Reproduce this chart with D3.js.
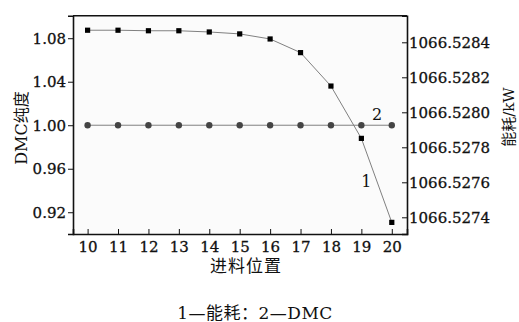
<!DOCTYPE html>
<meta charset="utf-8">
<style>
body { margin: 0; background: #fff; }
text { font-family: "DejaVu Serif", "Noto Sans CJK SC", serif; fill: #111; }
.axis path, .axis line { stroke: #111; }
.axis path { stroke-width: 1.6px; }
.axis text { font-size: 15px; stroke: #111; stroke-width: 0.3px; }
.line { fill: none; stroke: #808080; stroke-width: 1px; }
</style>
<svg width="519" height="322"></svg>
<script src="https://cdn.jsdelivr.net/npm/d3@7"></script>
<script>
// data
var positions = [10, 11, 12, 13, 14, 15, 16, 17, 18, 19, 20];
var energy = [1066.528469, 1066.528469, 1066.528466, 1066.528466, 1066.528459, 1066.528448,
              1066.528419, 1066.528341, 1066.528150, 1066.527851, 1066.527371];
var purity = [1.00, 1.00, 1.00, 1.00, 1.00, 1.00, 1.00, 1.00, 1.00, 1.00, 1.00];
var leftTicks = [0.92, 0.96, 1.00, 1.04, 1.08];
var rightTicks = [1066.5274, 1066.5276, 1066.5278, 1066.5280, 1066.5282, 1066.5284];

var svg = d3.select("svg"),
    margin = {top: 15.7, right: 112, bottom: 88, left: 73},
    width = svg.attr("width") - margin.left - margin.right,
    height = svg.attr("height") - margin.top - margin.bottom,
    g = svg.append("g").attr("transform", "translate(" + margin.left + "," + margin.top + ")");

//scales
var x = d3.scaleLinear().domain([9.52, 20.5]).range([0, width]),
    yL = d3.scaleLinear().domain([0.9, 1.1007]).range([height, 0]),
    yR = d3.scaleLinear().domain([1066.5273046, 1066.528552]).range([height, 0]);

g.append("rect")
    .attr("width", width)
    .attr("height", height)
    .attr("fill", "#fbfbfb");

//axes
g.append("g")
    .attr("class", "axis axis--x")
    .attr("transform", "translate(0," + height + ")")
    .call(d3.axisBottom(x).tickValues(positions).tickSize(-5).tickPadding(7).tickFormat(d3.format("d")));

g.append("g")
    .attr("class", "axis axis--y")
    .call(d3.axisLeft(yL).tickValues(leftTicks).tickSize(5).tickPadding(2).tickFormat(d3.format(".2f")));

g.append("g")
    .attr("class", "axis axis--y2")
    .attr("transform", "translate(" + width + ",0)")
    .call(d3.axisRight(yR).tickValues(rightTicks).tickSize(-5).tickPadding(2).tickFormat(d3.format(".4f")));

// top frame line
g.append("line")
    .attr("x1", 0).attr("x2", width)
    .attr("y1", 0).attr("y2", 0)
    .attr("stroke", "#111").attr("stroke-width", 1.6);

g.selectAll(".domain").attr("stroke-width", 1.6);

//lines
var lineE = d3.line()
    .x(function(d, i) { return x(positions[i]); })
    .y(function(d) { return yR(d); });
var lineP = d3.line()
    .x(function(d, i) { return x(positions[i]); })
    .y(function(d) { return yL(d); });

g.append("path").attr("class", "line").attr("d", lineP(purity));
g.append("path").attr("class", "line").attr("d", lineE(energy));

g.selectAll(".dot")
    .data(purity)
  .enter().append("circle")
    .attr("class", "dot")
    .attr("cx", function(d, i) { return x(positions[i]); })
    .attr("cy", function(d) { return yL(d); })
    .attr("r", 3.2)
    .attr("fill", "#444");

g.selectAll(".sq")
    .data(energy)
  .enter().append("rect")
    .attr("class", "sq")
    .attr("x", function(d, i) { return x(positions[i]) - 2.6; })
    .attr("y", function(d) { return yR(d) - 2.6; })
    .attr("width", 5.2)
    .attr("height", 5.2)
    .attr("fill", "#000");

//curve labels
g.append("text")
    .attr("x", x(19.52))
    .attr("y", yL(1.0) - 5)
    .attr("text-anchor", "middle")
    .style("font-size", "16px")
    .text("2");

g.append("text")
    .attr("x", x(19.16))
    .attr("y", yR(1066.52762) + 8)
    .attr("text-anchor", "middle")
    .style("font-size", "16px")
    .text("1");

//axis titles
svg.append("text")
    .attr("transform", "translate(27,128) rotate(-90)")
    .attr("text-anchor", "middle")
    .style("font-size", "16px")
    .text("DMC纯度");

svg.append("text")
    .attr("transform", "translate(514,117) rotate(-90)")
    .attr("text-anchor", "middle")
    .style("font-size", "15px")
    .text("能耗/kW");

svg.append("text")
    .attr("x", 246)
    .attr("y", 272)
    .attr("text-anchor", "middle")
    .style("font-size", "17px")
    .style("letter-spacing", "1px")
    .text("进料位置");

svg.append("text")
    .attr("x", 255)
    .attr("y", 319)
    .attr("text-anchor", "middle")
    .style("font-size", "17px")
    .style("letter-spacing", "0.5px")
    .text("1—能耗：2—DMC");
</script>
